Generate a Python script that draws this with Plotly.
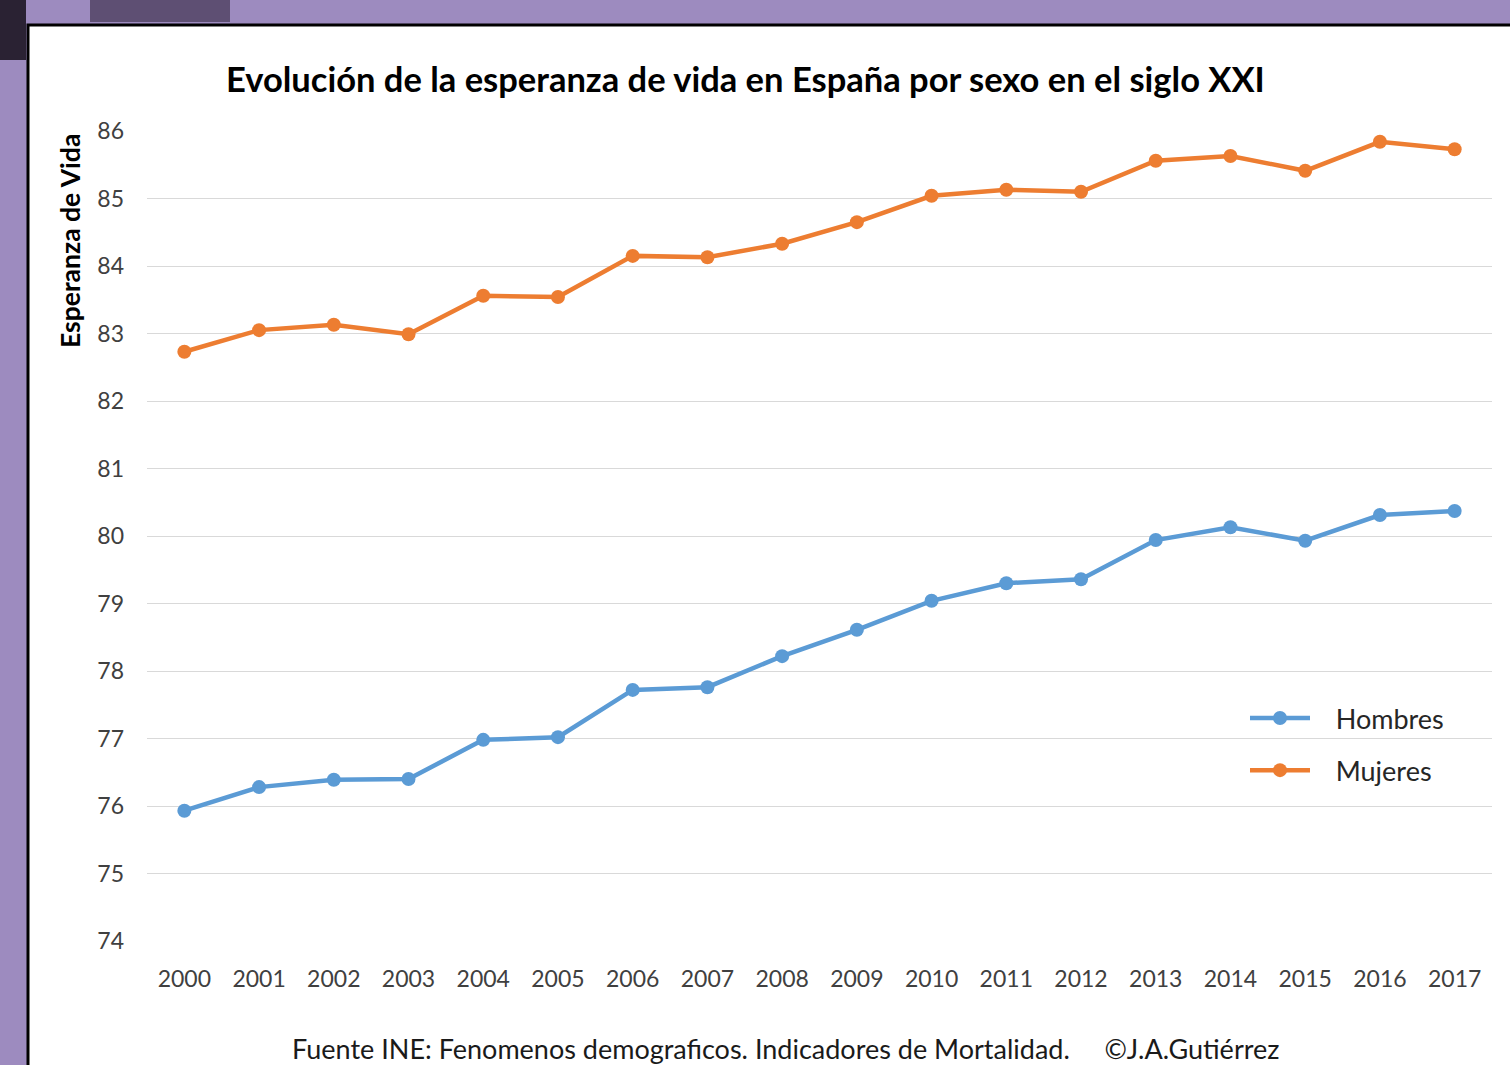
import plotly.graph_objects as go

years = [str(y) for y in range(2000, 2018)]
hombres = [75.93, 76.28, 76.39, 76.40, 76.98, 77.02, 77.72, 77.76, 78.22, 78.61,
           79.04, 79.30, 79.36, 79.94, 80.13, 79.93, 80.31, 80.37]
mujeres = [82.73, 83.05, 83.13, 82.99, 83.56, 83.54, 84.15, 84.13, 84.33, 84.65,
           85.04, 85.13, 85.10, 85.56, 85.63, 85.41, 85.84, 85.73]
y_ticks = list(range(74, 87))

W, H = 1510, 1065
L, R, T, B = 147, 18, 131, 124
pw, ph = W - L - R, H - T - B

def px(x):
    return (x - L) / pw

def py(y):
    return (H - B - y) / ph

font = "Lato, 'Open Sans', sans-serif"
pad = "&nbsp;&nbsp;&nbsp;"

fig = go.Figure()
fig.add_trace(go.Scatter(x=years, y=hombres, name=pad + "Hombres", mode="lines+markers",
                         line=dict(color="#5b9bd5", width=4.5),
                         marker=dict(size=14, color="#5b9bd5"), legendgroup="h"))
fig.add_trace(go.Scatter(x=years, y=mujeres, name=pad + "Mujeres", mode="lines+markers",
                         line=dict(color="#ed7d31", width=4.5),
                         marker=dict(size=14, color="#ed7d31"), legendgroup="m"))

fig.update_layout(
    width=W, height=H,
    margin=dict(l=L, r=R, t=T, b=B),
    paper_bgcolor="#9d8bbf",
    plot_bgcolor="white",
    font=dict(family=font, color="#404040"),
    showlegend=True,
    legend=dict(x=px(1245), y=py(694), xanchor="left", yanchor="top",
                bgcolor="rgba(0,0,0,0)", font=dict(size=27, color="#262626"),
                traceorder="grouped", tracegroupgap=14, itemwidth=60),
    xaxis=dict(type="category", range=[-0.5, 17.5], showgrid=False, zeroline=False,
               showline=False, ticks="", tickfont=dict(size=23, color="#404040"),
               ticklabelstandoff=22),
    yaxis=dict(range=[74, 86], tickvals=y_ticks, showgrid=True, gridcolor="#d9d9d9",
               gridwidth=1.3, zeroline=False, showline=False, ticks="",
               tickfont=dict(size=23, color="#404040"), ticklabelstandoff=22),
    shapes=[
        dict(type="rect", xref="paper", yref="paper", layer="below",
             x0=px(28), x1=px(W + 20), y0=py(25), y1=py(H + 20),
             fillcolor="white", line=dict(color="black", width=3)),
        dict(type="rect", xref="paper", yref="paper", layer="below",
             x0=px(0), x1=px(26), y0=py(0), y1=py(60),
             fillcolor="#2a2233", line=dict(width=0)),
        dict(type="rect", xref="paper", yref="paper", layer="below",
             x0=px(90), x1=px(230), y0=py(0), y1=py(22),
             fillcolor="#5e4f73", line=dict(width=0)),
    ],
    annotations=[
        dict(text="<b>Evolución de la esperanza de vida en España por sexo en el siglo XXI</b>",
             x=px(745), y=py(78), xref="paper", yref="paper", showarrow=False,
             xanchor="center", yanchor="middle",
             font=dict(size=34.5, color="#000000", family=font)),
        dict(text="<b>Esperanza de Vida</b>", textangle=-90,
             x=px(70), y=py(241), xref="paper", yref="paper", showarrow=False,
             xanchor="center", yanchor="middle",
             font=dict(size=26.5, color="#000000", family=font)),
        dict(text="Fuente INE: Fenomenos demograficos. Indicadores de Mortalidad.&nbsp;&nbsp;&nbsp;&nbsp;&nbsp;©J.A.Gutiérrez",
             x=px(785), y=py(1048), xref="paper", yref="paper", showarrow=False,
             xanchor="center", yanchor="middle",
             font=dict(size=27, color="#1a1a1a", family=font)),
    ],
)

fig.write_html("out.html", config={"displayModeBar": False},
               post_script="document.body.style.margin='0';document.body.style.background='#9d8bbf';")
